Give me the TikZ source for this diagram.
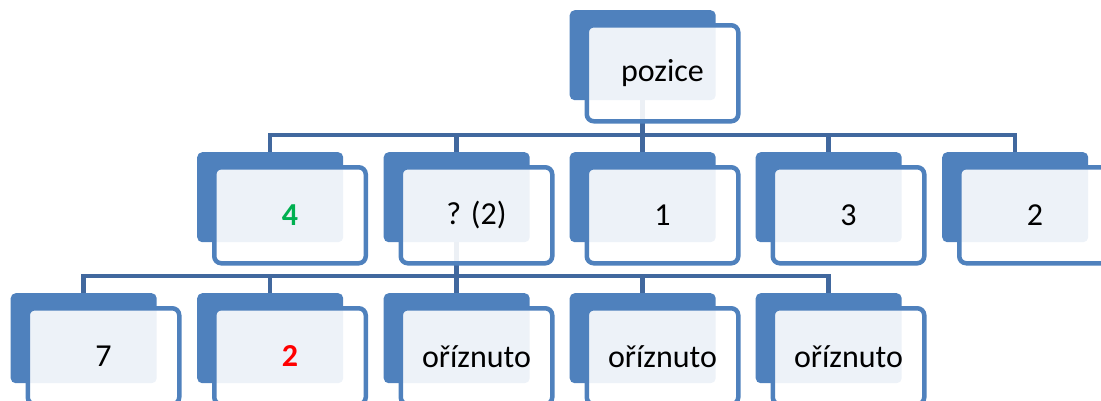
\documentclass[tikz,border=0pt]{standalone}
\usepackage{fontspec}
\setmainfont{Carlito}
\usetikzlibrary{backgrounds}
\definecolor{boxblue}{HTML}{4F81BD}
\definecolor{linkblue}{HTML}{41689E}
\definecolor{okgreen}{HTML}{00B050}
\definecolor{badred}{HTML}{FF0000}
\newcommand\orgnode[4]{%
  \node[backbox] (#1b) at (#2,#3) {};
  \node[frontbox, xshift=15pt, yshift=-13pt] (#1) at (#2,#3) {#4};
}
\begin{document}
\begin{tikzpicture}[x=1pt,y=-1pt,
  backbox/.style={fill=boxblue, rounded corners=5pt, minimum width=146pt,
    minimum height=90pt, anchor=north west, inner sep=0pt},
  frontbox/.style={draw=boxblue, line width=4.5pt, fill=white, fill opacity=0.9,
    text opacity=1, rounded corners=7pt, minimum width=151.5pt, minimum height=96pt,
    anchor=north west, inner sep=0pt, font=\fontsize{32}{38}\selectfont},
  conn/.style={draw=linkblue, line width=4.5pt}]
\useasboundingbox (0,0) rectangle (1101,400);
\clip (0,0) rectangle (1101,400);
% root
\orgnode{r}{569.5}{10}{pozice}
% row 2
\orgnode{a}{197}{152}{\textcolor{okgreen}{\bfseries 4}}
\orgnode{b}{383.5}{152}{? (2)}
\orgnode{c}{569.5}{152}{1}
\orgnode{d}{755.5}{152}{3}
\orgnode{e}{942}{152}{2}
% row 3
\orgnode{f}{10.5}{293}{7}
\orgnode{g}{197}{293}{\textcolor{badred}{\bfseries 2}}
\orgnode{h}{383.5}{293}{oříznuto}
\orgnode{i}{569.5}{293}{oříznuto}
\orgnode{j}{755.5}{293}{oříznuto}
\coordinate (busA) at (0,135);
\coordinate (busB) at (0,276);
\begin{pgfonlayer}{background}
  \foreach \k in {a,b,c,d,e}
    \draw[conn] (rb.south) -- (rb.south |- busA) -| (\k b.north);
  \foreach \k in {f,g,h,i,j}
    \draw[conn] (bb.south) -- (bb.south |- busB) -| (\k b.north);
\end{pgfonlayer}
\end{tikzpicture}
\end{document}
